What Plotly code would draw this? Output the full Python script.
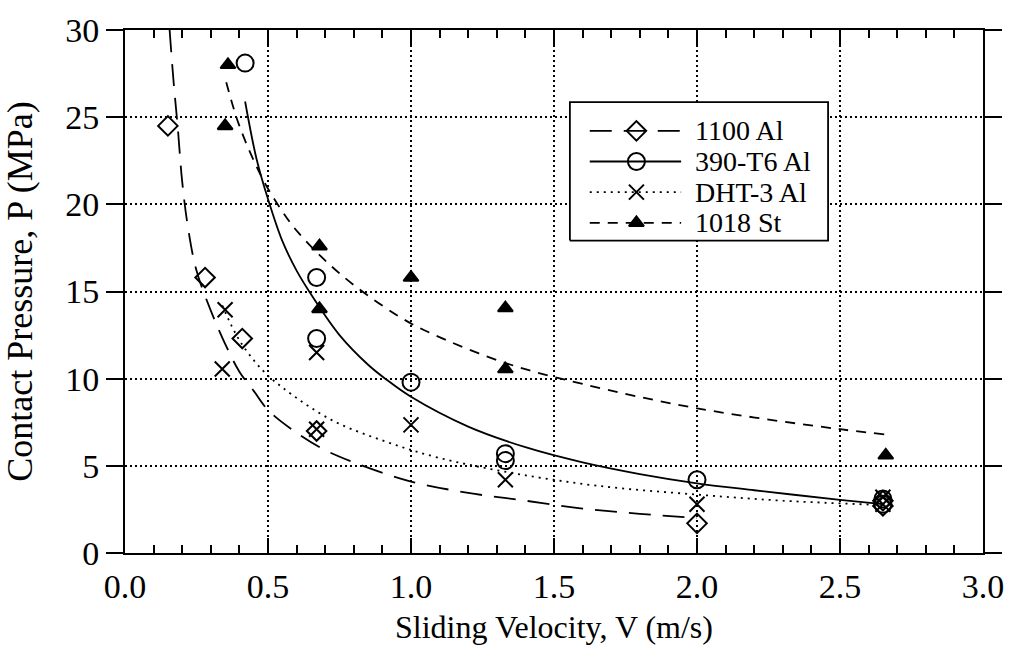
import plotly.graph_objects as go

# ---- measured points ----
al1100_v = [0.15, 0.28, 0.41, 0.67, 2.0, 2.65, 2.65]
al1100_p = [24.5, 15.8, 12.3, 7.0, 1.7, 3.0, 2.7]

t6_v = [0.42, 0.67, 0.67, 1.0, 1.33, 1.33, 2.0, 2.65, 2.65]
t6_p = [28.1, 15.8, 12.3, 9.8, 5.7, 5.3, 4.2, 3.1, 2.8]

dht_v = [0.35, 0.34, 0.67, 0.67, 1.0, 1.33, 2.0, 2.65, 2.65]
dht_p = [13.95, 10.55, 11.5, 7.1, 7.35, 4.2, 2.8, 3.2, 2.8]

st_v = [0.36, 0.35, 0.68, 0.68, 1.0, 1.33, 1.33, 2.66]
st_p = [28.0, 24.5, 17.6, 14.0, 15.8, 14.05, 10.55, 5.6]

# ---- fitted curves, read along their length ----
al1100_fit_v = [0.156, 0.17, 0.184, 0.2, 0.22, 0.25, 0.3, 0.35, 0.4, 0.45, 0.5,
                0.6, 0.7, 0.8, 1.0, 1.2, 1.4, 1.6, 1.8, 2.0]
al1100_fit_p = [30.0, 27.0, 24.5, 21.3, 18.7, 16.2, 13.9, 12.0, 10.4, 9.3, 8.2,
                6.9, 5.9, 5.2, 4.1, 3.45, 3.0, 2.55, 2.25, 2.0]

t6_fit_v = [0.42, 0.46, 0.5, 0.55, 0.6, 0.66, 0.75, 0.85, 0.91, 1.0, 1.2, 1.4,
            1.6, 1.8, 2.0, 2.2, 2.5, 2.65]
t6_fit_p = [25.9, 22.6, 20.3, 17.9, 16.2, 14.6, 12.5, 10.8, 10.0, 8.96, 7.25, 6.07,
            5.2, 4.53, 4.0, 3.6, 3.05, 2.8]

dht_fit_v = [0.34, 0.4, 0.48, 0.55, 0.72, 0.91, 1.1, 1.35, 1.65, 2.0, 2.3, 2.65]
dht_fit_p = [14.2, 12.2, 10.5, 9.5, 7.65, 6.4, 5.45, 4.6, 3.86, 3.35, 3.0, 2.75]

st_fit_v = [0.354, 0.4, 0.48, 0.55, 0.61, 0.76, 0.955, 1.07, 1.33, 1.6, 2.0, 2.5, 2.66]
st_fit_p = [27.0, 24.5, 21.5, 19.6, 18.3, 15.9, 13.6, 12.6, 10.9, 9.7, 8.3, 7.1, 6.8]

series_names = ["1100 Al", "390-T6 Al", "DHT-3 Al", "1018 St"]
x_ticks = [0.0, 0.5, 1.0, 1.5, 2.0, 2.5, 3.0]
y_ticks = [0, 5, 10, 15, 20, 25, 30]

FONT = "Liberation Serif, Times New Roman, serif"
BLACK = "black"

styles = [
    dict(dash="22px,12px", symbol="diamond-open", size=15),
    dict(dash="solid", symbol="circle-open", size=17),
    dict(dash="2px,5px", symbol="x-thin-open", size=15),
    dict(dash="10px,8px", symbol="triangle-up", size=13),
]

fig = go.Figure()

fits = [(al1100_fit_v, al1100_fit_p), (t6_fit_v, t6_fit_p),
        (dht_fit_v, dht_fit_p), (st_fit_v, st_fit_p)]
points = [(al1100_v, al1100_p), (t6_v, t6_p), (dht_v, dht_p), (st_v, st_p)]

for (fv, fp), st in zip(fits, styles):
    fig.add_trace(go.Scatter(x=fv, y=fp, mode="lines", line_shape="spline",
                             line=dict(color=BLACK, width=1.8, dash=st["dash"]),
                             showlegend=False, hoverinfo="skip"))

for (pv, pp), st, name in zip(points, styles, series_names):
    fig.add_trace(go.Scatter(x=pv, y=pp, mode="markers", name=name,
                             marker=dict(symbol=st["symbol"], size=st["size"], color=BLACK,
                                         line=dict(color=BLACK, width=2)),
                             showlegend=False))

# ---- legend box on a pixel-like overlay axis ----
W, H = 864, 529
box_x = [448, 708, 708, 448, 448]
box_y = [316, 316, 456, 456, 316]
fig.add_trace(go.Scatter(x=box_x, y=box_y, xaxis="x2", yaxis="y2", mode="lines",
                         fill="toself", fillcolor="white",
                         line=dict(color=BLACK, width=1.8),
                         showlegend=False, hoverinfo="skip"))
row_y = [427, 396, 365, 334]
for ry, st, name in zip(row_y, styles, series_names):
    fig.add_trace(go.Scatter(x=[468, 560], y=[ry, ry], xaxis="x2", yaxis="y2", mode="lines",
                             line=dict(color=BLACK, width=1.8, dash=st["dash"]),
                             showlegend=False, hoverinfo="skip"))
    fig.add_trace(go.Scatter(x=[515], y=[ry], xaxis="x2", yaxis="y2", mode="markers",
                             marker=dict(symbol=st["symbol"], size=st["size"], color=BLACK,
                                         line=dict(color=BLACK, width=2)),
                             showlegend=False, hoverinfo="skip"))
    fig.add_annotation(x=573, y=ry, xref="x2", yref="y2", text=name, showarrow=False,
                       xanchor="left", yanchor="middle", borderpad=0,
                       font=dict(family=FONT, size=28, color=BLACK))

axis_common = dict(showline=True, linecolor=BLACK, linewidth=2, zeroline=False,
                   showgrid=True, gridcolor=BLACK, gridwidth=1.5, griddash="2px,3px",
                   tickcolor=BLACK, tickwidth=2, mirror="ticks",
                   tickfont=dict(family=FONT, size=34, color=BLACK))

fig.update_layout(
    width=1016, height=656,
    margin=dict(l=125, r=27, t=24, b=103),
    paper_bgcolor="white", plot_bgcolor="white",
    showlegend=False,
    xaxis=dict(range=[0, 3], tickvals=x_ticks, ticktext=[f"{v:.1f}" for v in x_ticks],
               ticks="inside", ticklen=15, ticklabelstandoff=2,
               minor=dict(dtick=0.1, ticks="inside", ticklen=8, tickwidth=2,
                          tickcolor=BLACK, showgrid=False),
               title=dict(text="Sliding Velocity, V (m/s)", standoff=12,
                          font=dict(family=FONT, size=32, color=BLACK)),
               **axis_common),
    yaxis=dict(range=[0, 30], tickvals=y_ticks, ticks="outside", ticklen=17,
               title=dict(text="Contact Pressure, P (MPa)", standoff=22,
                          font=dict(family=FONT, size=36, color=BLACK)),
               **axis_common),
    xaxis2=dict(overlaying="x", range=[0, W], visible=False, fixedrange=True),
    yaxis2=dict(overlaying="y", range=[0, H], visible=False, fixedrange=True),
)

fig.write_html("out.html")
